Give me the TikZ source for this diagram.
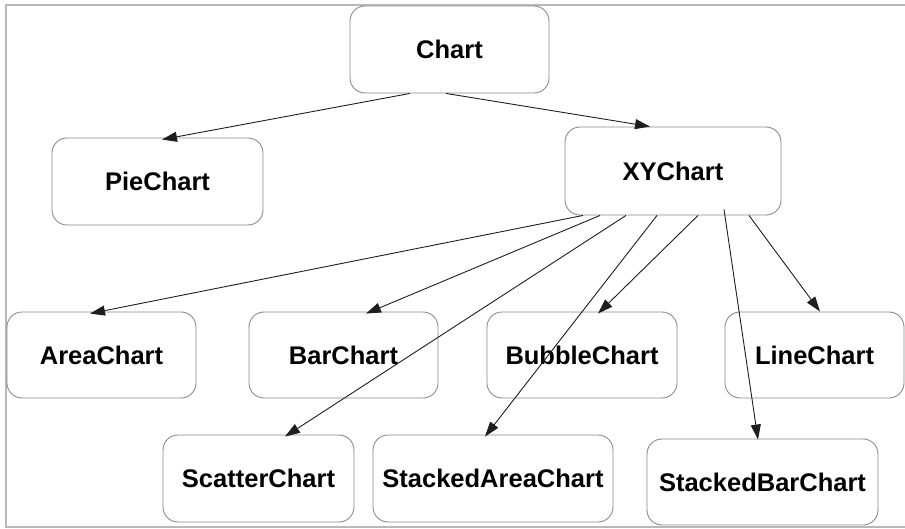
\documentclass[tikz,border=0pt]{standalone}
\usepackage{fontspec}
\setmainfont{Liberation Sans}
\usetikzlibrary{arrows.meta,calc}
\definecolor{frameg}{HTML}{B8B8B8}
\definecolor{boxg}{HTML}{8A8A8A}
\definecolor{linek}{HTML}{1E1E1E}
\begin{document}
\begin{tikzpicture}[x=1pt,y=-1pt,
  cbox/.style={draw=boxg,line width=0.9pt,rounded corners=15pt,fill=white,
    minimum height=87pt,inner sep=0pt,
    font=\fontsize{25.5}{30}\selectfont\bfseries},
  conn/.style={draw=linek,line width=0.9pt,-{Triangle[length=15pt,width=10pt]}}]
\useasboundingbox (0,0) rectangle (905,529);
% frame
\draw[frameg,line width=2pt] (905,5) -- (6,5) -- (6,527) -- (905,527);
% nodes
\node[cbox,minimum width=199pt] (chart) at (449.5,49.5) {Chart};
\node[cbox,minimum width=211pt] (pie) at (157.5,181.5) {PieChart};
\node[cbox,minimum width=216pt,minimum height=88pt] (xy) at (673,171) {XYChart};
\node[cbox,minimum width=189pt,minimum height=86pt] (area) at (101.5,355) {AreaChart};
\node[cbox,minimum width=189pt,minimum height=86pt] (bar) at (343.5,355) {BarChart};
\node[cbox,minimum width=190pt,minimum height=86pt] (bubble) at (582,355) {BubbleChart};
\node[cbox,minimum width=179pt,minimum height=86pt] (line) at (814.5,355) {LineChart};
\node[cbox,minimum width=191pt] (scatter) at (258.5,478.5) {ScatterChart};
\node[cbox,minimum width=240pt] (sarea) at (493,478.5) {StackedAreaChart};
\node[cbox,minimum width=231pt,minimum height=86pt] (sbar) at (762.5,482) {StackedBarChart};
% connectors
\draw[conn] ([xshift=-39.5pt]chart.south) -- ([xshift=4.5pt,yshift=-2pt]pie.north);
\draw[conn] ([xshift=-3.5pt]chart.south) -- ([xshift=-23pt]xy.north);
\draw[conn] ([xshift=-90pt]xy.south) -- ([xshift=-11.5pt,yshift=-2pt]area.north);
\draw[conn] ([xshift=-73pt]xy.south) -- ([xshift=22.5pt,yshift=-2pt]bar.north);
\draw[conn] ([xshift=-47pt]xy.south) -- ([xshift=26.5pt,yshift=-2pt]scatter.north);
\draw[conn] ([xshift=-16pt]xy.south) -- ([xshift=-8pt,yshift=-2pt]sarea.north);
\draw[conn] ([xshift=25pt]xy.south) -- ([xshift=16pt,yshift=-2pt]bubble.north);
\draw[conn] ([xshift=51pt,yshift=6pt]xy.south) -- ([xshift=-4.5pt,yshift=-1pt]sbar.north);
\draw[conn] ([xshift=76pt]xy.south) -- ([xshift=5.5pt]line.north);
\end{tikzpicture}
\end{document}
